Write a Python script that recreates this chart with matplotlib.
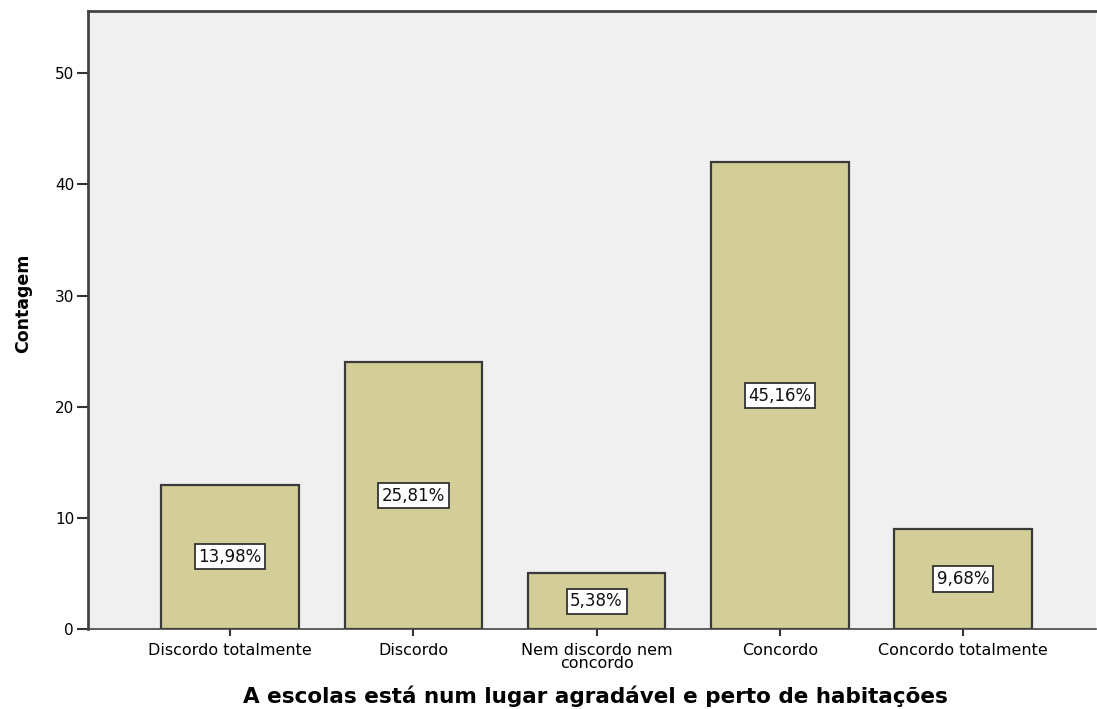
import numpy as np
import matplotlib
matplotlib.use("Agg")
from matplotlib import pyplot as plt

categories = ["Discordo totalmente", "Discordo", "Nem discordo nem\nconcordo",
              "Concordo", "Concordo totalmente"]
counts = [13, 24, 5, 42, 9]
percent_labels = ["13,98%", "25,81%", "5,38%", "45,16%", "9,68%"]
y_ticks = [0, 10, 20, 30, 40, 50]

plt.rcParams['font.family'] = ['DejaVu Sans']

fig = plt.figure(figsize=(10.97, 7.09), dpi=100)
ax = fig.add_axes([0.0802, 0.1128, 0.9188, 0.8717])
ax.set_facecolor("#F0F0F0")

x = np.arange(len(categories))
ax.bar(x, counts, width=0.75, color="#D3CE97", edgecolor="#3a3a3a", linewidth=1.6, zorder=2)

# percentage label in a white box at the middle of each bar
for xi, c, lab in zip(x, counts, percent_labels):
    ax.text(xi, c / 2, lab, ha="center", va="center", fontsize=12, color="#111111", zorder=3,
            bbox=dict(boxstyle="square,pad=0.22", facecolor="white", edgecolor="#333333", linewidth=1.3))

ax.set_xlim(-0.775, 4.725)
ax.set_ylim(0, 55.6)
ax.set_yticks(y_ticks)
ax.set_xticks(x)
ax.set_xticklabels(categories, fontsize=11.5, linespacing=0.8)
ax.tick_params(axis="y", labelsize=11, length=8, width=1.5, color="#333333", pad=2)
ax.tick_params(axis="x", length=5, width=1.5, color="#333333", pad=5)

for side in ["left", "top"]:
    ax.spines[side].set_color("#444444")
    ax.spines[side].set_linewidth(2)
ax.spines["bottom"].set_color("#444444")
ax.spines["bottom"].set_linewidth(1.2)
ax.spines["right"].set_visible(False)

ax.set_ylabel("Contagem", fontsize=12.5, fontweight="bold")
ax.yaxis.set_label_coords(-0.0555, 0.527)

# axis title placed on the figure so it sits just above the bottom edge
fig.text(0.543, 0.0085, "A escolas está num lugar agradável e perto de habitações",
         ha="center", va="baseline", fontsize=15.5, fontweight="bold")

plt.savefig("out.png", dpi=100)
